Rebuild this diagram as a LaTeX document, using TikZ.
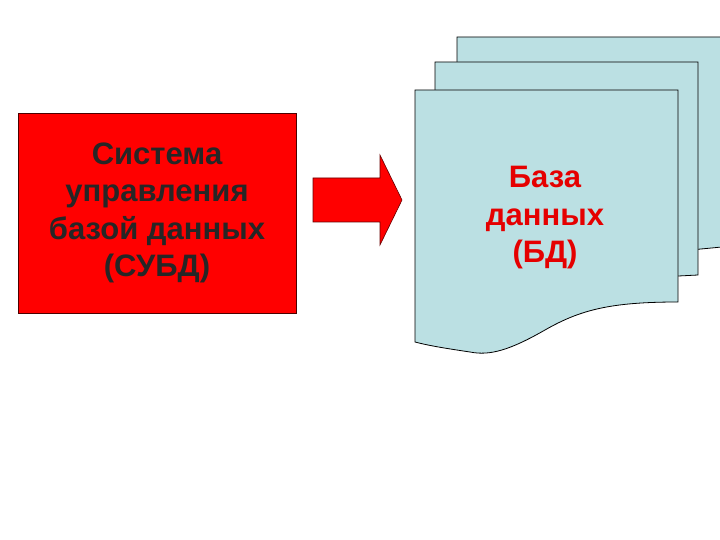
\documentclass[tikz,border=0pt]{standalone}
\usepackage{fontspec}
\setmainfont{Liberation Sans}
\begin{document}
\begin{tikzpicture}[x=1pt,y=-1pt,
  doc/.style={fill={rgb,255:red,187;green,224;blue,227},draw=black,line width=0.8pt},
  lbl/.style={font=\bfseries\fontsize{31}{37.5}\selectfont,align=center}]
\useasboundingbox (0,0) rectangle (720,540);
\begin{scope}
\clip (0,0) rectangle (720,540);
\path[doc] (457,37) -- (740,37) -- (740,245) .. controls (700,250) and (560,260) .. (520,270) -- (457,275) -- cycle;
\path[doc] (435,62) -- (698,62) -- (698,275) -- (600,280) -- (435,300) -- cycle;
\path[doc] (415,90) -- (678,90) -- (678,302) .. controls (610,302) and (580,310) .. (545,330) .. controls (510,350) and (490,356) .. (470,352) .. controls (450,349) and (430,346) .. (415,342) -- cycle;
\end{scope}
\node[draw=black!70!red,fill=red,minimum width=278,minimum height=200,inner sep=0] (s) at (157,213) {};
\node[lbl,text=black!85] at (s) {Система\\управления\\базой данных\\(СУБД)};
\path[fill=red,draw=black!60!red,line width=0.6pt] (313,178) -- (380,178) -- (380,155) -- (402,200) -- (380,245) -- (380,222) -- (313,222) -- cycle;
\node[lbl,text=red!90!black] (d) at (545,218) {База\\данных\\(БД)};
\end{tikzpicture}
\end{document}
